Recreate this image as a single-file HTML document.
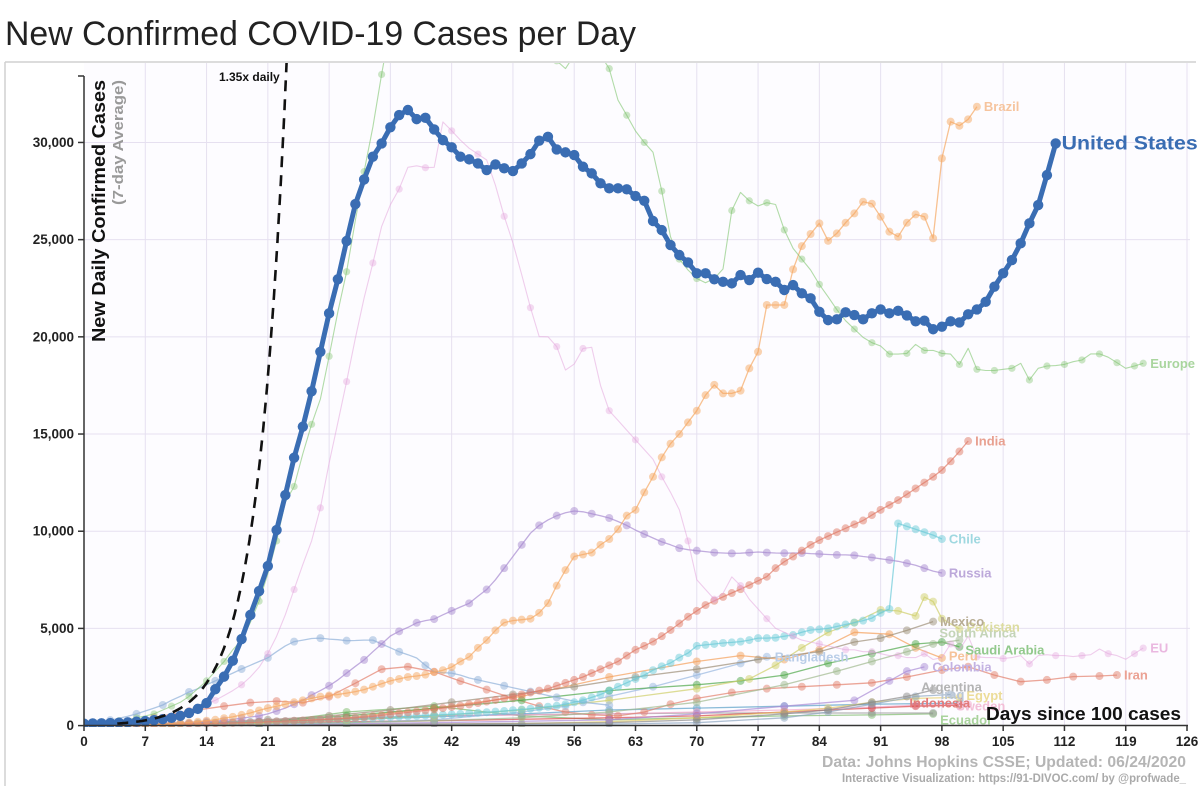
<!DOCTYPE html>
<html><head><meta charset="utf-8"><style>
html,body{margin:0;padding:0;background:#fff;}
svg{display:block;font-family:"Liberation Sans",sans-serif;}
</style></head><body>
<svg id="chart" width="1200" height="786" viewBox="0 0 1200 786">
<text x="5" y="45" font-size="34" textLength="631" lengthAdjust="spacingAndGlyphs" fill="#222">New Confirmed COVID-19 Cases per Day</text>
<line x1="5" y1="62" x2="1196" y2="62" stroke="#d0d0d0" stroke-width="1.5"/>
<line x1="5" y1="62" x2="5" y2="786" stroke="#d0d0d0" stroke-width="1.5"/>
<rect x="84" y="63" width="1106" height="662" fill="#fdfcff"/>
<g id="grid"></g>
<defs><clipPath id="clip"><rect x="84" y="63" width="1110" height="664"/></clipPath></defs>
<g id="series" clip-path="url(#clip)"></g>
<g id="axes"></g>
<g id="labels"></g>
<text x="219" y="81" font-size="12" font-weight="bold" fill="#111">1.35x daily</text>
<text transform="translate(105,80) rotate(-90)" text-anchor="end" font-size="18.5" font-weight="bold" fill="#111" textLength="262" lengthAdjust="spacingAndGlyphs">New Daily Confirmed Cases</text>
<text transform="translate(123,80) rotate(-90)" text-anchor="end" font-size="15" font-weight="bold" fill="#999" textLength="125" lengthAdjust="spacingAndGlyphs">(7-day Average)</text>
<text x="1181" y="720" text-anchor="end" font-size="18" font-weight="bold" fill="#111" textLength="195" lengthAdjust="spacingAndGlyphs">Days since 100 cases</text>
<text x="1186" y="767" text-anchor="end" font-size="15.5" font-weight="bold" fill="#b5b5b5" textLength="364" lengthAdjust="spacingAndGlyphs">Data: Johns Hopkins CSSE; Updated: 06/24/2020</text>
<text x="1186" y="782" text-anchor="end" font-size="11.5" font-weight="bold" fill="#aaa" textLength="344" lengthAdjust="spacingAndGlyphs">Interactive Visualization: https://91-DIVOC.com/ by @profwade_</text>
</svg>
<script>
const xTicks=[0,7,14,21,28,35,42,49,56,63,70,77,84,91,98,105,112,119,126];
const yTicks=[0,5000,10000,15000,20000,25000,30000];
const yTickLabels=["0","5,000","10,000","15,000","20,000","25,000","30,000"];

const usVals=[100,110,120,130,150,170,200,230,280,330,400,500,
650,860,1160,1870,2520,3340,4450,5690,6920,8210,10060,11860,13780,15380,
17200,19230,21210,22960,24930,26830,28100,29270,29950,30780,31410,31670,31200,31270,30670,
30120,29750,29270,29130,28920,28580,28870,28670,28530,28920,29400,30090,30290,29640,29490,29350,28750,28410,27900,27640,
27640,27590,27240,27000,25960,25490,24720,24210,23830,23270,23270,22960,22830,22750,23180,22920,23300,22970,22830,22410,
22660,22240,21980,21290,20860,20900,21260,21120,20900,21210,21410,21210,21340,21100,20800,20830,20390,20520,20800,20740,
21160,21410,21800,22580,23270,23950,24810,25840,26780,28320,29950];
const europeVals=[100,120,150,200,250,300,400,500,600,800,1000,1200,1500,1900,2300,2800,3300,3900,4400,
5300,6400,7800,9500,11500,12300,14000,15500,16800,19000,21300,23350,26000,28500,30800,33500,36000,38000,
39000,40000,40500,40500,40000,39500,39000,38500,38000,37500,37000,36500,36000,35500,35000,34800,34500,34200,
33800,34500,35000,35000,34500,33800,
32180,31400,30590,30000,29500,27500,25150,24000,23440,23000,22780,23000,23490,26500,27430,27000,26730,26900,26810,25500,24550,24000,23440,22700,22060,21400,20830,20400,19970,19700,19530,
19110,19110,19150,19610,19300,19300,19150,19110,18580,19410,18330,18270,18270,18330,18380,18640,17780,18380,18500,18520,18580,18720,18810,19120,19120,18950,18670,18380,18500,18640];
const brazilVals=[0,5,10,15,20,30,40,50,60,80,100,130,160,200,250,300,380,450,550,650,780,
900,1000,1100,1200,1300,1400,1490,1550,1600,1670,1750,1850,2000,2150,2300,2400,2500,2550,2620,2750,2850,3010,3300,3540,4000,4400,4900,
5300,5400,5450,5500,5800,6300,7200,8000,8700,8800,8900,9300,9600,10100,10800,11100,12000,12800,13800,14500,15000,15600,16200,17000,
17530,17090,17090,17230,18380,19230,21640,21640,21640,23470,24670,25290,25840,24940,25320,25870,26350,26950,26850,26180,25410,25150,25870,26300,26180,25070,29180,31070,30860,31190,31840];
const euVals=[50,60,80,100,130,170,220,280,350,430,520,620,750,900,1100,1300,1550,1800,2100,2500,
3000,3700,4600,5700,7000,8300,9500,11200,13500,15600,17700,19940,22000,23800,25670,26800,27600,28720,28800,28700,28720,
31060,30600,30120,29700,29400,29100,27800,26200,24840,23200,21500,20010,20000,19500,18290,18600,19400,19460,17500,16200,
15700,15200,14700,14200,13700,12800,12000,11100,9500,7500,7000,6500,6800,7650,7200,6500,6000,5500,5000,4800,
4600,4400,4300,4200,4100,4000,3900,3900,3800,3800,3700,3600,3600,3500,3500,3700,3400,3500,4200,3900,
4600,3540,3500,3500,3450,3500,3600,3170,3600,3650,3600,3600,3550,3600,3650,3940,3700,3600,3410,3700,3990];
const indiaVals=[10,15,20,25,30,35,40,45,50,60,70,80,90,100,110,120,130,140,150,165,180,200,215,230,250,265,280,300,
320,340,370,400,440,480,530,580,630,680,730,780,840,900,960,1020,1090,1160,1240,1320,1410,1500,1600,1700,1800,1900,2050,2200,2350,2500,2700,2900,3100,3300,3600,3900,4100,
4320,4600,4920,5250,5600,5900,6200,6420,6620,6820,7020,7230,7450,7660,8100,8430,8700,9000,9300,9540,9750,9950,10150,10350,10550,10830,11100,11350,11600,11900,12200,12500,12800,13150,13600,14100,14640];
const russiaVals=[0,5,10,15,20,25,30,40,50,60,80,100,120,150,200,
230,270,320,380,440,500,600,750,900,1100,1300,1570,1800,2050,2350,2700,3050,3380,3800,4200,4610,
4850,5050,5290,5400,5480,5700,5900,6100,6290,6650,7000,7500,8100,8700,9300,9900,10300,10580,10800,10950,11040,
11000,10900,10800,10680,10500,10300,10060,9850,9650,9450,9300,9130,9050,9000,8950,8900,8880,8860,8870,8900,8930,8900,8880,8870,8880,8880,8850,8830,8800,8780,8780,8760,8700,8650,8580,8520,8450,8350,8250,8100,7950,7850];
const chileVals=[10,15,20,30,40,50,60,70,80,90,100,110,120,130,140,150,160,170,180,190,
200,210,220,230,240,250,260,280,300,320,340,360,380,400,420,440,460,480,500,520,
540,560,580,600,630,660,690,720,750,790,830,870,920,970,1020,1100,1200,1300,1450,1600,
1800,2000,2200,2400,2600,2850,3050,3220,3500,3730,4100,4150,4200,4250,4280,4320,4400,4500,4500,4520,
4600,4660,4800,4920,4950,5000,5100,5200,5300,5400,5530,5800,6000,
10400,10250,10100,9950,9800,9600];
const italyVals=[100,150,200,280,380,480,600,750,900,1060,
1300,1500,1730,1900,2100,2300,2500,2700,2910,3100,3300,3490,3800,4100,4320,4400,4480,4500,
4450,4420,4370,4380,4400,4400,4200,4000,3800,3650,3480,3100,2770,2720,2700,2600,2450,2350,2250,2150,2050,1950,1850,1750,1650,1550,1450,1350,1250,1200,1150,1100,1050];

const mexicoDays=[0,7,14,21,28,35,42,49,56,63,70,77,84,88,91,94,97];
const mexicoVals=[20,60,150,300,500,800,1200,1600,2000,2500,2900,3400,3800,4300,4500,4900,5350];
const pakistanDays=[0,10,20,30,40,50,60,70,76,79,82,85,88,91,93,95,96,97,98,100];
const pakistanVals=[0,50,150,300,500,800,1300,1900,2400,3100,4000,4800,5300,5950,5900,5640,6610,6380,5500,4970];
const southAfricaDays=[0,10,20,30,40,50,60,70,80,86,90,94,97,100];
const southAfricaVals=[0,50,100,150,250,400,700,1200,2100,2800,3300,3800,4200,4400];
const saudiDays=[0,10,20,30,40,50,60,70,75,80,85,90,95,98,100];
const saudiVals=[0,100,200,500,900,1300,1800,2100,2300,2600,3200,3700,4200,4300,4050];
const peruDays=[0,10,20,30,40,50,60,70,75,80,84,88,92,95,98];
const peruVals=[0,50,150,400,900,1500,2500,3300,3600,3400,3900,4800,4700,4000,3480];
const colombiaDays=[0,20,40,60,70,80,88,92,94,96];
const colombiaVals=[0,50,150,300,600,1000,1300,2300,2800,3020];
const bangladeshDays=[0,20,30,40,50,55,60,65,70,75,78];
const bangladeshVals=[0,50,150,300,700,1000,1500,2000,2600,3200,3540];
const iranDays=[0,4,8,12,16,19,22,25,28,31,34,37,40,43,46,49,52,55,58,61,64,67,70,74,78,82,86,90,94,98,101,104,107,110,113,116,118];
const iranVals=[50,170,420,740,1000,1180,1260,1180,1490,2180,2900,3030,2770,2290,1850,1400,1000,700,550,500,700,1100,1400,1700,1900,2000,2100,2200,2500,2860,3030,2600,2260,2350,2520,2550,2600];
const argentinaDays=[0,20,40,60,70,80,85,90,94,97];
const argentinaVals=[0,30,80,150,300,600,800,1200,1500,1830];
const iraqDays=[0,30,50,60,70,80,85,90,95,99];
const iraqVals=[0,30,50,80,150,400,700,1100,1500,1600];
const egyptDays=[0,30,50,60,70,80,85,90,95,100];
const egyptVals=[0,50,100,200,400,700,900,1200,1400,1450];
const indonesiaDays=[0,20,40,60,70,80,90,95,100];
const indonesiaVals=[50,150,250,400,500,700,900,1000,1050];
const swedenDays=[0,20,40,60,70,80,90,95,101];
const swedenVals=[20,300,500,600,700,800,950,1050,1100];
const ecuadorDays=[0,20,30,40,50,60,70,80,90,97];
const ecuadorVals=[0,100,700,1000,500,300,400,500,550,600];
const grayDays=[20,30,40,50,60,70,80,90,97];
const grayVals=[200,350,500,560,600,650,650,650,650];
const tealDays=[10,20,30,40,50,60,70,80,90,100];
const tealVals=[100,200,300,450,600,800,900,1000,1100,1150];

const NS="http://www.w3.org/2000/svg";
const X0=84, DX=8.754, Y0=725.6, KY=0.019438;
function xs(d){return X0+d*DX;}
function ys(v){return Y0-v*KY;}
function mk(tag,attrs,parent){const e=document.createElementNS(NS,tag);for(const k in attrs)e.setAttribute(k,attrs[k]);parent.appendChild(e);return e;}

const grid=document.getElementById('grid');
xTicks.forEach(t=>{if(t===0)return;
 const l=mk('line',{x1:xs(t),x2:xs(t),y1:63,y2:725,stroke:'#e6e0f0','stroke-width':1},grid);
 
 });
yTicks.forEach(t=>{if(t===0)return;
 const l=mk('line',{x1:84,x2:1190,y1:ys(t),y2:ys(t),stroke:'#e6e0f0','stroke-width':1},grid);
 
 });

const axes=document.getElementById('axes');
const xa=mk('line',{x1:84,x2:1188,y1:725.5,y2:725.5,stroke:'#333','stroke-width':1.5},axes);


const ya=mk('line',{x1:84,x2:84,y1:76,y2:725.5,stroke:'#333','stroke-width':1.5},axes);


const tt=mk('line',{x1:78,x2:84,y1:76,y2:76,stroke:'#333','stroke-width':1.5},axes);


xTicks.forEach(t=>{
 const tk=mk('line',{x1:xs(t),x2:xs(t),y1:725,y2:731,stroke:'#333','stroke-width':1.5},axes);
 
 
 const tx=mk('text',{x:xs(t),y:746,'text-anchor':'middle','font-size':13.5,'font-weight':'bold',fill:'#222'},axes);
 tx.textContent=t;
 
 
});
yTicks.forEach((t,i)=>{
 const tk=mk('line',{x1:78,x2:84,y1:ys(t),y2:ys(t),stroke:'#333','stroke-width':1.5},axes);
 
 
 const tx=mk('text',{x:74,y:ys(t)+4.5,'text-anchor':'end','font-size':13.5,'font-weight':'bold',fill:'#222'},axes);
 tx.textContent=yTickLabels[i];
 
 
});

const series=document.getElementById('series');
const labels=document.getElementById('labels');
function seq(n,start){const a=[];for(let i=0;i<n;i++)a.push(start+i);return a;}
function drawSeries(name,days,vals,color,labelColor,opts){
 opts=opts||{};
 const g=mk('g',{},series);
 
 
 const pts=days.map((d,i)=>xs(d).toFixed(1)+','+ys(vals[i]).toFixed(1)).join(' ');
 const pl=mk('polyline',{points:pts,fill:'none',stroke:color,'stroke-width':opts.w||1.3,'stroke-opacity':opts.lo||0.7,'stroke-linejoin':'round'},g);
 
 
 days.forEach((d,i)=>{
  if(opts.every && i%opts.every!==0 && i!==days.length-1) return;
  const c=mk('circle',{cx:xs(d),cy:ys(vals[i]),r:opts.r||4,fill:color,'fill-opacity':opts.fo||0.5},g);
  
  
 });
 if(opts.label){
  const n=days.length-1;
  const a={x:xs(days[n])+(opts.lx||7),y:ys(vals[n])+(opts.ly||0)+(opts.fs?6:4.5),'font-size':opts.fs||13,'font-weight':'bold',fill:labelColor};
  if(opts.tl){a.textLength=opts.tl;a.lengthAdjust='spacingAndGlyphs';}
  const t=mk('text',a,labels);
  t.textContent=opts.label;
  
  
 }
}
drawSeries('ecuador',ecuadorDays,ecuadorVals,'#7dbb6c','#a9d39c',{label:'Ecuador',ly:6});
drawSeries('gray',grayDays,grayVals,'#999','#bbb',{});
drawSeries('teal',tealDays,tealVals,'#5aa0c8','#9cc',{});
drawSeries('sweden',swedenDays,swedenVals,'#f2a8cc','#f3bfd8',{label:'Sweden',lx:-12,ly:2});
drawSeries('indonesia',indonesiaDays,indonesiaVals,'#d84848','#e27a7a',{label:'Indonesia',lx:-50,ly:-2});
drawSeries('egypt',egyptDays,egyptVals,'#e6cf6a','#ecdc98',{label:'Egypt',ly:-2});
drawSeries('iraq',iraqDays,iraqVals,'#8da6c0','#b9c6d6',{label:'Iraq',lx:-10,ly:0});
drawSeries('argentina',argentinaDays,argentinaVals,'#8a8a8a','#b4b4b4',{label:'Argentina',lx:-12,ly:-3});
drawSeries('iran',iranDays,iranVals,'#e2806c','#eba193',{label:'Iran'});
drawSeries('colombia',colombiaDays,colombiaVals,'#a98bd6','#c3b2e2',{label:'Colombia',lx:8});
drawSeries('bangladesh',bangladeshDays,bangladeshVals,'#98b8e0','#b9cde8',{label:'Bangladesh',lx:8});
drawSeries('peru',peruDays,peruVals,'#f4a05a','#f5c39a',{label:'Peru',ly:-2});
drawSeries('saudi-arabia',saudiDays,saudiVals,'#4fa84a','#92c98c',{label:'Saudi Arabia',lx:6,ly:3});
drawSeries('south-africa',southAfricaDays,southAfricaVals,'#9fb98f','#c4d4b8',{label:'South Africa',lx:-20,ly:-7});
drawSeries('pakistan',pakistanDays,pakistanVals,'#cfcf6a','#dcdca0',{label:'Pakistan',ly:-2});
drawSeries('mexico',mexicoDays,mexicoVals,'#9c8f78','#b8ad94',{label:'Mexico'});
drawSeries('italy',seq(italyVals.length,0),italyVals,'#8fb0d8','#aac',{every:3});
drawSeries('chile',seq(chileVals.length,0),chileVals,'#6ccbd8','#9fd8e0',{label:'Chile'});
drawSeries('russia',seq(russiaVals.length,0),russiaVals,'#a78ad0','#bca8da',{label:'Russia',every:2});
drawSeries('india',seq(indiaVals.length,0),indiaVals,'#e07a66','#e8a090',{label:'India'});
drawSeries('eu',seq(euVals.length,0),euVals,'#e3a6dc','#eab8e0',{label:'EU',every:3,lo:0.55,w:1.1,fo:0.4,r:3.6});
drawSeries('brazil',seq(brazilVals.length,0),brazilVals,'#f5a862','#f6c49e',{label:'Brazil'});
drawSeries('europe',seq(europeVals.length,0),europeVals,'#7fc46e','#a9d59e',{label:'Europe',every:2,lo:0.6,w:1.1,fo:0.4,r:3.6});
drawSeries('united-states',seq(usVals.length,0),usVals,'#3a6db3','#3a6db3',{w:5,lo:1,r:5.2,fo:1,label:'United States',lx:6,fs:19,tl:136});

// 1.35x daily reference curve
const ref=[];
for(let d=3.8;d<=23.5;d+=0.1){ref.push(xs(d).toFixed(1)+','+ys(100*Math.pow(1.35,d-3.71)).toFixed(1));}
const rl=mk('polyline',{points:ref.join(' '),fill:'none',stroke:'#111','stroke-width':2.6,'stroke-dasharray':'11,8'},series);


</script>
</body></html>
